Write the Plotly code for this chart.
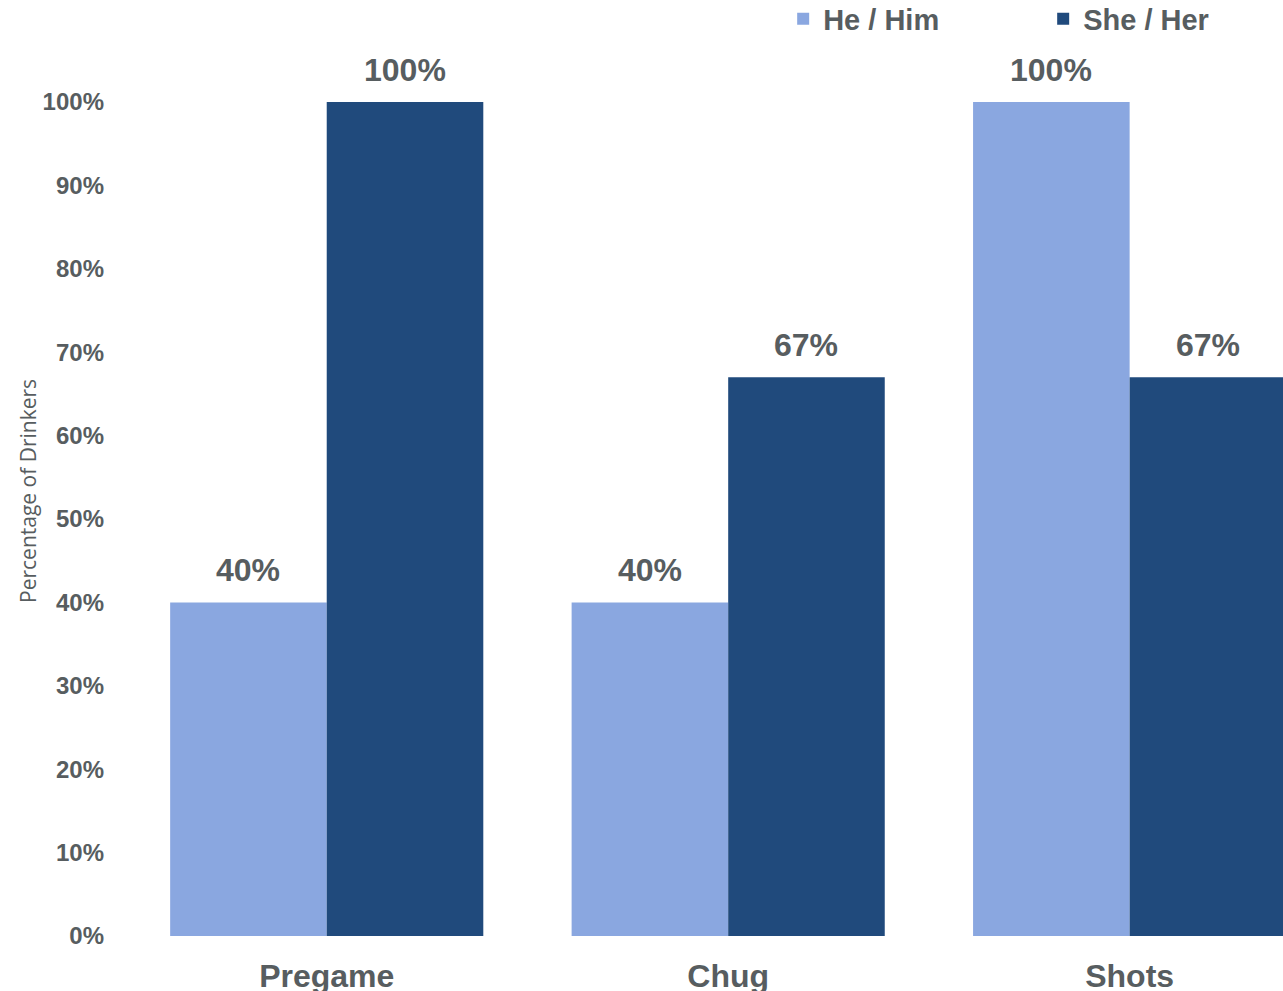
import plotly.graph_objects as go

categories = ["Pregame", "Chug", "Shots"]
he_him = [0.40, 0.40, 1.00]
she_her = [1.00, 0.67, 0.67]
series_names = ["He / Him", "She / Her"]
y_ticks = [0, 0.1, 0.2, 0.3, 0.4, 0.5, 0.6, 0.7, 0.8, 0.9, 1.0]
y_title = "Percentage of Drinkers"

LIGHT = "#8AA7E0"
DARK = "#204A7C"
TEXT = "#575D60"
FONT = "Arial, Liberation Sans, sans-serif"
BARGAP = 0.22

fig = go.Figure()
fig.add_trace(go.Bar(x=categories, y=he_him, name=series_names[0], marker_color=LIGHT,
                     marker_line_width=0))
fig.add_trace(go.Bar(x=categories, y=she_her, name=series_names[1], marker_color=DARK,
                     marker_line_width=0))

bw = (1 - BARGAP) / 2
for s, vals in enumerate([he_him, she_her]):
    off = (s - 0.5) * bw
    for i, v in enumerate(vals):
        fig.add_annotation(x=i + off, y=v, xref="x", yref="y", text=f"{round(v*100)}%",
                           showarrow=False, yanchor="bottom", yshift=12,
                           font=dict(family=FONT, size=32, color=TEXT, weight="bold"))

fig.add_annotation(x=-0.0847, y=0.5336, xref="paper", yref="paper", text=y_title,
                   textangle=-90, showarrow=False, xanchor="center", yanchor="middle",
                   font=dict(family="Open Sans, sans-serif", size=21, color=TEXT))

fig.update_layout(
    width=1283, height=991,
    barmode="group", bargap=BARGAP, bargroupgap=0,
    plot_bgcolor="white", paper_bgcolor="white",
    margin=dict(l=126, r=0, t=102, b=55, autoexpand=False),
    font=dict(family=FONT, color=TEXT),
    legend=dict(orientation="h", x=0.568, xanchor="left", y=1.0995, yanchor="middle",
                font=dict(family=FONT, size=29, color=TEXT, weight="bold"),
                entrywidth=215, bgcolor="rgba(0,0,0,0)"),
    xaxis=dict(range=[-0.5, 2.382], showgrid=False, showline=False, zeroline=False,
               tickfont=dict(family=FONT, size=32, color=TEXT, weight="bold"),
               ticklabelstandoff=18, automargin=False),
    yaxis=dict(range=[0, 1], tickvals=y_ticks, tickformat=".0%", showgrid=False,
               showline=False, zeroline=False,
               tickfont=dict(family=FONT, size=24, color=TEXT, weight="bold"),
               ticklabelstandoff=21, automargin=False),
)

fig.write_html("out.html", config={"displayModeBar": False},
               post_script="document.body.style.margin='0';document.body.style.overflow='hidden';")
